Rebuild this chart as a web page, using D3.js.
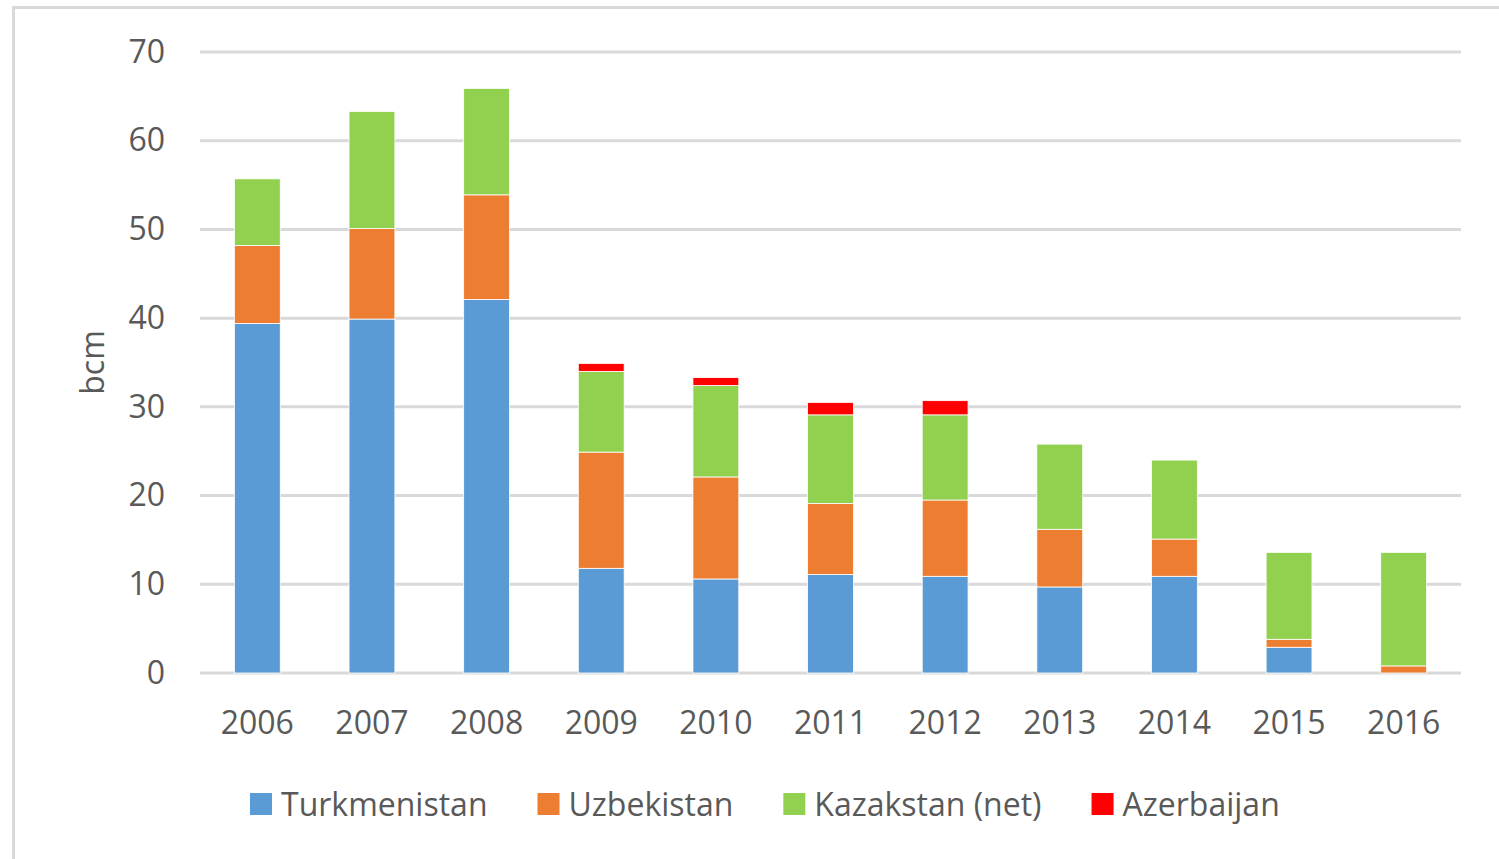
<!DOCTYPE html>
<html>
<head>
<meta charset="utf-8">
<script src="https://cdn.jsdelivr.net/npm/d3@7"></script>
<style>
  body { margin: 0; background: #fff; }
  text { font-family: "Open Sans", "Liberation Sans", sans-serif; fill: #595959; }
</style>
</head>
<body>
<div id="chart"></div>
<script>
// data (bcm)
var years = ["2006", "2007", "2008", "2009", "2010", "2011", "2012", "2013", "2014", "2015", "2016"];
var seriesNames = ["Turkmenistan", "Uzbekistan", "Kazakstan (net)", "Azerbaijan"];
var turkmenistan = [39.4, 39.9, 42.1, 11.8, 10.6, 11.1, 10.9, 9.7, 10.9, 2.9, 0];
var uzbekistan   = [8.8, 10.2, 11.8, 13.1, 11.5, 8.0, 8.6, 6.5, 4.2, 0.9, 0.8];
var kazakstan    = [7.5, 13.2, 12.0, 9.1, 10.3, 10.0, 9.6, 9.6, 8.9, 9.8, 12.8];
var azerbaijan   = [0, 0, 0, 0.9, 0.9, 1.4, 1.6, 0, 0, 0, 0];
var yTicks = [0, 10, 20, 30, 40, 50, 60, 70];
var colors = ["#5B9BD5", "#ED7D31", "#92D050", "#FF0000"];

var W = 1499, H = 859;
var margin = {left: 200, right: 38, top: 52, bottom: 186};

var svg = d3.select("#chart").append("svg")
  .attr("width", W).attr("height", H);

// chart frame
svg.append("rect")
  .attr("x", 13.5).attr("y", 7.5)
  .attr("width", W).attr("height", H)
  .attr("fill", "none")
  .attr("stroke", "#d9d9d9")
  .attr("stroke-width", 3);

var x = d3.scaleBand()
  .domain(years)
  .range([margin.left, W - margin.right])
  .paddingInner(0.6).paddingOuter(0.3);

var y = d3.scaleLinear()
  .domain([0, 70])
  .range([H - margin.bottom, margin.top]);

// gridlines
svg.append("g").selectAll("line")
  .data(yTicks)
  .enter().append("line")
  .attr("x1", margin.left).attr("x2", W - margin.right)
  .attr("y1", function(d) { return y(d); })
  .attr("y2", function(d) { return y(d); })
  .attr("stroke", "#d9d9d9")
  .attr("stroke-width", 3);

// stacked bars
var rows = years.map(function(yr, i) {
  return {year: yr, s0: turkmenistan[i], s1: uzbekistan[i], s2: kazakstan[i], s3: azerbaijan[i]};
});
var stack = d3.stack().keys(["s0", "s1", "s2", "s3"]);
var layers = stack(rows);

svg.append("g").selectAll("g")
  .data(layers)
  .enter().append("g")
  .attr("fill", function(d, i) { return colors[i]; })
  .selectAll("rect")
  .data(function(d) { return d.filter(function(p) { return p[1] - p[0] > 0; }); })
  .enter().append("rect")
  .attr("x", function(d) { return x(d.data.year); })
  .attr("width", x.bandwidth())
  .attr("y", function(d) { return y(d[1]); })
  .attr("height", function(d) { return y(d[0]) - y(d[1]); })
  .attr("stroke", "#fff")
  .attr("stroke-width", 0.8);

// y axis labels
var yAxis = d3.axisLeft(y).tickValues(yTicks).tickSize(0).tickPadding(0);
var gy = svg.append("g")
  .attr("transform", "translate(165,0)")
  .call(yAxis);
gy.select(".domain").remove();
gy.selectAll("text")
  .attr("font-size", 32)
  .attr("font-family", null)
  .attr("fill", "#595959");

// x axis labels
var xAxis = d3.axisBottom(x).tickSize(0).tickPadding(0);
var gx = svg.append("g")
  .attr("transform", "translate(0," + (H - margin.bottom) + ")")
  .call(xAxis);
gx.select(".domain").remove();
gx.selectAll("text")
  .attr("font-size", 32)
  .attr("font-family", null)
  .attr("fill", "#595959")
  .attr("dy", null)
  .attr("y", 61);

// y title
svg.append("text")
  .attr("transform", "translate(104," + y(35) + ") rotate(-90)")
  .attr("text-anchor", "middle")
  .attr("font-size", 32)
  .text("bcm");

// legend
var legend = svg.append("g").attr("class", "legend");
var lx = 250;
seriesNames.forEach(function(name, i) {
  legend.append("rect")
    .attr("x", lx).attr("y", 793)
    .attr("width", 22).attr("height", 22)
    .attr("fill", colors[i]);
  var t = legend.append("text")
    .attr("x", lx + 31).attr("y", 816)
    .attr("font-size", 32)
    .text(name);
  lx += 31 + t.node().getComputedTextLength() + 50;
});
</script>
</body>
</html>
